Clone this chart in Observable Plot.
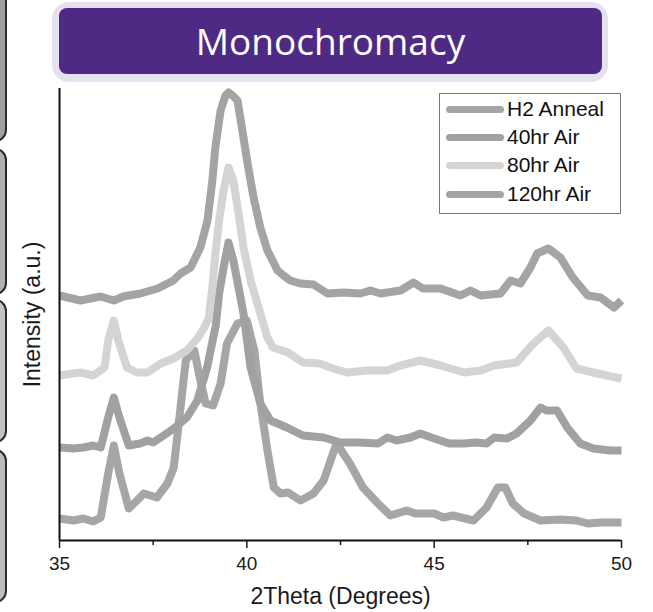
<!DOCTYPE html>
<html>
<head>
<meta charset="utf-8">
<script src="https://cdn.jsdelivr.net/npm/d3@7"></script>
<script src="https://cdn.jsdelivr.net/npm/@observablehq/plot@0.6"></script>
<style>
  html, body { margin: 0; padding: 0; background: #fff; }
  #wrap { position: relative; width: 653px; height: 612px; overflow: hidden; font-family: "Liberation Sans", Arial, sans-serif; }
  .slide { position: absolute; left: -30px; width: 33px; border: 2px solid #2a2a2a; border-radius: 12px; }
  #titleOuter { position: absolute; left: 52px; top: 2px; width: 556px; height: 80px; background: #e6e1f1; border-radius: 17px; }
  #titleInner { position: absolute; left: 59px; top: 8px; width: 543px; height: 66px; background: #4e2a84; border-radius: 8px;
    color: #fff; font-family: "Open Sans", sans-serif; font-size: 37px; line-height: 66px; text-align: center; }
  #legend { position: absolute; left: 439px; top: 93px; width: 180px; height: 119px; border: 1px solid #777; background: #fff; }
  .lrow { position: absolute; left: 0; height: 28px; display: flex; align-items: center; font-size: 21px; color: #111; }
  .lrow span.sw { display: inline-block; width: 58px; height: 7px; border-radius: 4px; margin-left: 6px; margin-right: 3px; }
  #chart { position: absolute; left: 0; top: 0; }
</style>
</head>
<body>
<div id="wrap">
  <div class="slide" style="top:-12px;height:150px;background:#a0a0a0"></div>
  <div class="slide" style="top:148px;height:143px;background:#b0b0b0"></div>
  <div class="slide" style="top:299px;height:140px;background:#c4c4c4"></div>
  <div class="slide" style="top:449px;height:150px;background:#bcbcbc"></div>
  <div id="chart"></div>
  <div id="titleOuter"></div>
  <div id="titleInner">Monochromacy</div>
  <div id="legend"></div>
</div>
<script>
// Series names and colours
const seriesNames = ["H2 Anneal", "40hr Air", "80hr Air", "120hr Air"];
const seriesColors = ["#a6a6a6", "#a1a1a1", "#d4d4d4", "#a4a4a4"];

// X tick labels
const majorTicks = [35, 40, 45, 50];
const minorTicks = [37.5, 42.5, 47.5];

// H2 Anneal (bottom trace): 2theta, intensity (a.u.)
const thetaH2 = [35.0,35.37,35.64,35.9,36.1,36.3,36.45,36.6,36.85,37.07,37.25,37.6,37.88,38.05,38.23,38.37,38.6,38.72,38.9,39.1,39.3,39.47,39.75,40.0,40.2,40.35,40.55,40.72,40.9,41.1,41.43,41.78,42.05,42.3,42.4,42.75,43.1,43.5,43.83,44.27,44.5,45.0,45.25,45.5,46.05,46.4,46.7,46.9,47.1,47.4,47.84,48.37,48.8,49.1,49.44,50.0];
const intH2   = [22,20,22,19,23,67,95,67,32,40,47,43,57,73,133,180,190,167,137,135,157,197,217,220,190,140,90,53,47,48,40,47,60,87,97,77,53,37,25,30,27,27,23,25,20,33,53,53,37,27,20,21,20,17,18,18];

// 40hr Air
const theta40 = [35.0,35.37,35.64,35.9,36.1,36.3,36.45,36.6,36.85,37.15,37.35,37.5,37.78,38.05,38.4,38.68,38.94,39.17,39.26,39.38,39.51,39.64,39.78,39.91,40.1,40.36,40.63,41.07,41.5,42.05,42.5,43.0,43.5,43.75,44.0,44.37,44.63,45.0,45.4,45.8,46.1,46.4,46.6,46.95,47.2,47.57,47.84,48.0,48.28,48.55,48.9,49.25,49.7,50.0];
const int40   = [93,92,93,95,93,123,143,123,95,97,100,98,105,112,123,140,173,215,247,273,298,280,253,227,173,137,120,113,105,103,98,98,97,103,100,103,107,102,97,97,98,97,103,102,107,120,133,130,130,113,97,92,90,90];

// 80hr Air
const theta80 = [35.0,35.56,35.9,36.2,36.3,36.45,36.57,36.8,37.07,37.35,37.7,38.04,38.4,38.7,38.85,38.98,39.08,39.16,39.26,39.38,39.51,39.64,39.78,39.91,40.1,40.36,40.55,40.7,41.1,41.5,41.95,42.3,42.67,43.2,43.75,44.1,44.63,45.17,45.8,46.24,46.6,47.2,47.65,48.05,48.45,48.8,49.25,49.6,50.0];
const int80   = [165,168,165,173,200,220,200,173,168,168,177,182,190,203,212,222,253,287,320,350,373,360,327,293,260,227,203,193,188,178,177,172,168,170,170,175,180,175,168,170,175,178,197,210,193,172,168,165,162];

// 120hr Air (top trace)
const theta120 = [35.0,35.56,36.1,36.45,36.7,37.16,37.62,38.04,38.23,38.5,38.76,38.95,39.08,39.16,39.3,39.43,39.51,39.62,39.75,39.88,40.02,40.18,40.36,40.55,40.82,40.98,41.16,41.43,41.78,42.15,42.58,43.03,43.3,43.57,44.1,44.45,44.7,45.17,45.7,45.97,46.24,46.77,47.04,47.3,47.57,47.75,48.05,48.37,48.7,49.1,49.44,49.8,50.0];
const int120   = [245,240,244,240,244,247,252,260,267,273,293,320,360,393,430,445,448,445,440,410,377,343,313,290,270,265,260,257,256,247,248,247,250,247,250,258,252,252,245,250,245,247,260,257,273,287,292,283,263,245,243,233,240];

const seriesX = [thetaH2, theta40, theta80, theta120];
const seriesY = [intH2, int40, int80, int120];

const rows = [];
seriesNames.forEach((name, i) => {
  seriesX[i].forEach((t, j) => rows.push({series: name, theta: t, intensity: seriesY[i][j]}));
});

const chart = Plot.plot({
  width: 653,
  height: 612,
  marginLeft: 59,
  marginRight: 32,
  marginTop: 88,
  marginBottom: 72,
  style: {fontFamily: "'Liberation Sans', Arial, sans-serif", fontSize: "19px", color: "#1a1a1a", background: "transparent", overflow: "visible"},
  x: {domain: [35, 50]},
  y: {domain: [0, 452], axis: null},
  color: {domain: seriesNames, range: seriesColors},
  marks: [
    Plot.line(rows, {x: "theta", y: "intensity", z: "series", stroke: "series", strokeWidth: 8, strokeLinejoin: "round", strokeLinecap: "butt"}),
    Plot.ruleY([0], {stroke: "#111", strokeWidth: 2}),
    Plot.ruleX([35], {y1: 0, y2: 452, stroke: "#111", strokeWidth: 2}),
    Plot.axisX({ticks: majorTicks, tickSize: 8, tickPadding: 8, tickFormat: d => String(d), label: null, fontSize: 19, strokeWidth: 1.5}),
    Plot.axisX({ticks: minorTicks, tickSize: 5, tickFormat: () => "", label: null, strokeWidth: 1.5}),
    Plot.text(["2Theta (Degrees)"], {frameAnchor: "bottom", textAnchor: "middle", dy: 63, fontSize: 23, fill: "#1a1a1a"}),
    Plot.text(["Intensity (a.u.)"], {frameAnchor: "left", textAnchor: "middle", dx: -27, rotate: -90, fontSize: 23, fill: "#1a1a1a"})
  ]
});
document.getElementById("chart").appendChild(chart);

// Legend
const legend = document.getElementById("legend");
const rowTops = [1, 29, 57, 86];
seriesNames.forEach((name, i) => {
  const r = document.createElement("div");
  r.className = "lrow";
  r.style.top = rowTops[i] + "px";
  r.innerHTML = `<span class="sw" style="background:${seriesColors[i]}"></span>${name}`;
  legend.appendChild(r);
});
</script>
</body>
</html>
